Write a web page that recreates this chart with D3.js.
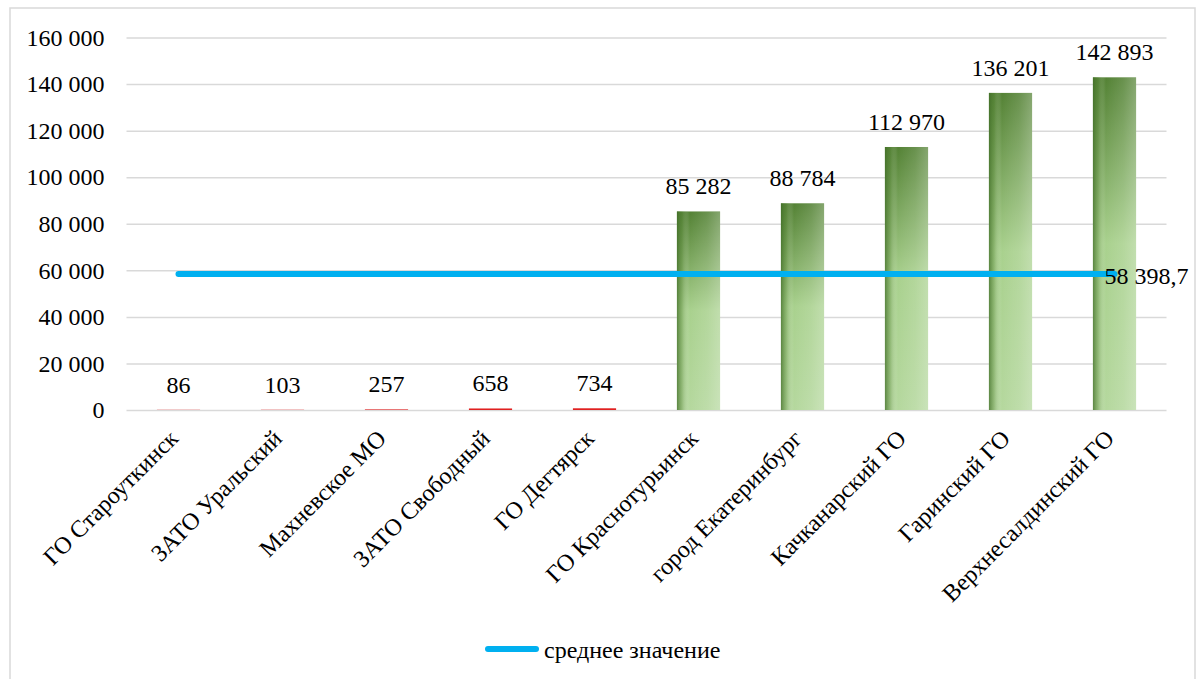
<!DOCTYPE html>
<html><head><meta charset="utf-8">
<script src="https://cdn.jsdelivr.net/npm/d3@7"></script>
<style>body{margin:0;background:#fff;}svg{display:block;}</style>
</head><body>
<svg id="c" width="1199" height="679"></svg>
<script>
const categories = ["ГО Староуткинск","ЗАТО Уральский","Махневское МО","ЗАТО Свободный","ГО Дегтярск","ГО Краснотурьинск","город Екатеринбург","Качканарский ГО","Гаринский ГО","Верхнесалдинский ГО"];
const values = [86,103,257,658,734,85282,88784,112970,136201,142893];
const valueLabels = ["86","103","257","658","734","85 282","88 784","112 970","136 201","142 893"];
const meanValue = 58398.7;
const meanLabel = "58 398,7";
const legendLabel = "среднее значение";
const yTicks = [0,20000,40000,60000,80000,100000,120000,140000,160000];

const FONT = '"Liberation Serif", Tinos, "Times New Roman", serif';
const FS = "24px";
const svg = d3.select("#c");
const x = d3.scaleBand().domain(categories).range([126.5,1166.5]).paddingInner(0.585).paddingOuter(0.2925);
const y = d3.scaleLinear().domain([0,160000]).range([410,37.5]);

// border
svg.append("rect").attr("x",10).attr("y",8).attr("width",1185).attr("height",700)
  .attr("fill","#fff").attr("stroke","#D9D9D9").attr("stroke-width",1.5);

const defs = svg.append("defs");
function grad(id, x2, y2, stops){
  const g = defs.append("linearGradient").attr("id",id).attr("x1",0).attr("y1",0).attr("x2",x2).attr("y2",y2);
  stops.forEach(s=>g.append("stop").attr("offset",s[0]).attr("stop-color",s[1]).attr("stop-opacity",s[2]===undefined?1:s[2]));
}
grad("gV",0,1,[[0,"#548235"],[0.5,"#A9D18E"],[1,"#B5D89E"]]);
grad("gH",1,0,[[0,"#3E6B25",0.75],[0.12,"#548235",0.35],[0.3,"#ffffff",0],[0.7,"#ffffff",0.12],[1,"#ffffff",0.28]]);

// gridlines + y labels
const yAxis = d3.axisLeft(y).tickValues(yTicks).tickSize(-(1166.5-126.5)).tickPadding(22)
  .tickFormat(d=>d3.format(",")(d).replace(/,/g," "));
const ga = svg.append("g").attr("transform","translate(126.5,0)").call(yAxis);
ga.select(".domain").remove();
ga.selectAll("line").attr("stroke","#D9D9D9").attr("stroke-width",1.5);
ga.selectAll("text").style("font-family",FONT).style("font-size",FS).attr("fill","#000");

// bars
const bars = svg.append("g");
categories.forEach((c,i)=>{
  const v = values[i];
  const bx = x(c), bw = x.bandwidth(), by = y(v), bh = y(0)-y(v);
  const red = v < 1000;
  bars.append("rect").attr("x",bx).attr("y",by).attr("width",bw).attr("height",bh)
    .attr("fill", red ? "#E02020" : "url(#gV)");
  if(!red) bars.append("rect").attr("x",bx).attr("y",by).attr("width",bw).attr("height",bh).attr("fill","url(#gH)");
});

// value labels
svg.append("g").selectAll("text").data(categories).join("text")
  .attr("x",d=>x(d)+x.bandwidth()/2)
  .attr("y",(d,i)=>y(values[i])-17)
  .attr("text-anchor","middle").style("font-family",FONT).style("font-size",FS).attr("fill","#000")
  .text((d,i)=>valueLabels[i]);

// mean line
const cx = d=>x(d)+x.bandwidth()/2;
const line = d3.line().x(d=>cx(d)).y(()=>y(meanValue));
svg.append("path").datum(categories).attr("d",line).attr("fill","none")
  .attr("stroke","#00B0F0").attr("stroke-width",6).attr("stroke-linecap","round");
svg.append("text").attr("x",cx(categories[categories.length-1])-10).attr("y",y(meanValue)+10)
  .style("font-family",FONT).style("font-size",FS).attr("fill","#000").text(meanLabel);

// x labels
svg.append("g").selectAll("text").data(categories).join("text")
  .attr("transform",d=>`translate(${cx(d)-5},${434}) rotate(-45)`)
  .attr("text-anchor","end").style("font-family",FONT).style("font-size",FS).attr("fill","#000")
  .attr("dy","0.35em")
  .text(d=>d);

// legend
svg.append("line").attr("x1",488).attr("x2",536).attr("y1",649).attr("y2",649)
  .attr("stroke","#00B0F0").attr("stroke-width",6).attr("stroke-linecap","round");
svg.append("text").attr("x",544).attr("y",658).style("font-family",FONT).style("font-size",FS).attr("fill","#000").text(legendLabel);
</script>
</body></html>
